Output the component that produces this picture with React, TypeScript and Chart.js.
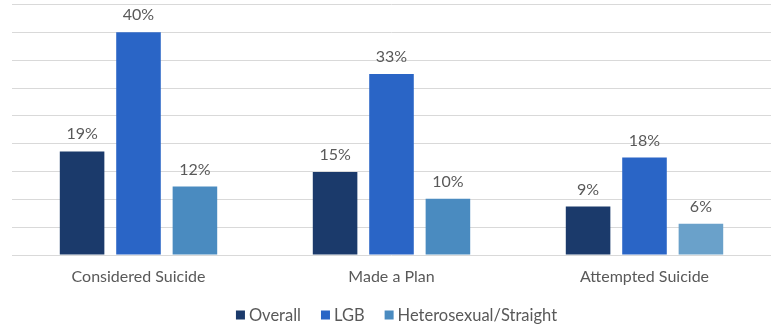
import React, { useEffect, useRef } from "react";
import { Chart, registerables } from "chart.js";

Chart.register(...registerables);

const categories = ["Considered Suicide", "Made a Plan", "Attempted Suicide"];
const seriesNames = ["Overall", "LGB", "Heterosexual/Straight"];
const overallValues = [18.6, 14.9, 8.7];
const lgbValues = [40, 32.5, 17.5];
const heteroValues = [12.3, 10.1, 5.6];
const overallLabels = ["19%", "15%", "9%"];
const lgbLabels = ["40%", "33%", "18%"];
const heteroLabels = ["12%", "10%", "6%"];
const seriesColors = ["#1b3a6b", "#2a65c6", "#4a8bc0"];
const heteroColors = ["#4a8bc0", "#4a8bc0", "#6aa1ca"];

const FONT = "Lato, 'Open Sans', sans-serif";
const TEXT = "#595959";

const labelPlugin = {
  id: "valueLabels",
  afterDatasetsDraw(chart: any) {
    const ctx = chart.ctx;
    const labelSets = [overallLabels, lgbLabels, heteroLabels];
    ctx.save();
    ctx.font = `16px ${FONT}`;
    ctx.fillStyle = TEXT;
    ctx.textAlign = "center";
    ctx.textBaseline = "alphabetic";
    chart.data.datasets.forEach((_ds: any, i: number) => {
      const meta = chart.getDatasetMeta(i);
      meta.data.forEach((bar: any, j: number) => {
        ctx.fillText(labelSets[i][j], bar.x, bar.y - 12);
      });
    });
    ctx.restore();
  },
};

const legendPlugin = {
  id: "customLegend",
  afterDraw(chart: any) {
    const ctx = chart.ctx;
    const box = 9;
    const boxGap = 4;
    const itemGap = 20;
    ctx.save();
    ctx.font = `16.5px ${FONT}`;
    const widths = seriesNames.map((n) => box + boxGap + ctx.measureText(n).width);
    const total = widths.reduce((a, b) => a + b, 0) + itemGap * (seriesNames.length - 1);
    const center = chart.width / 2 + 11;
    let x = center - total / 2;
    const y = chart.height - 9;
    ctx.textBaseline = "middle";
    ctx.textAlign = "left";
    seriesNames.forEach((n, i) => {
      ctx.fillStyle = seriesColors[i];
      ctx.fillRect(x, y - box / 2, box, box);
      ctx.fillStyle = TEXT;
      ctx.fillText(n, x + box + boxGap, y + 0.5);
      x += widths[i] + itemGap;
    });
    ctx.restore();
  },
};

export default function App() {
  const ref = useRef<HTMLCanvasElement | null>(null);
  useEffect(() => {
    document.body.style.margin = "0";
    const chart = new Chart(ref.current as HTMLCanvasElement, {
      type: "bar",
      data: {
        labels: categories,
        datasets: [
          { label: seriesNames[0], data: overallValues, backgroundColor: seriesColors[0] },
          { label: seriesNames[1], data: lgbValues, backgroundColor: seriesColors[1] },
          { label: seriesNames[2], data: heteroValues, backgroundColor: heteroColors },
        ],
      },
      options: {
        responsive: false,
        animation: false,
        layout: { padding: { left: 12, right: -4.5, top: 4.5, bottom: 25 } },
        datasets: { bar: { categoryPercentage: 0.669, barPercentage: 0.79 } },
        scales: {
          x: {
            grid: { display: false, drawTicks: false },
            border: { display: false },
            ticks: { color: TEXT, font: { family: FONT, size: 16 }, padding: 12.4 },
          },
          y: {
            min: 0,
            max: 45,
            ticks: { display: false, stepSize: 5 },
            border: { display: false },
            grid: { color: "#d9d9d9", drawTicks: false },
          },
        },
        plugins: {
          legend: { display: false },
          tooltip: { enabled: false },
        },
      },
      plugins: [labelPlugin, legendPlugin],
    });
    return () => chart.destroy();
  }, []);
  return <canvas ref={ref} width={771} height={324} style={{ display: "block" }} />;
}
